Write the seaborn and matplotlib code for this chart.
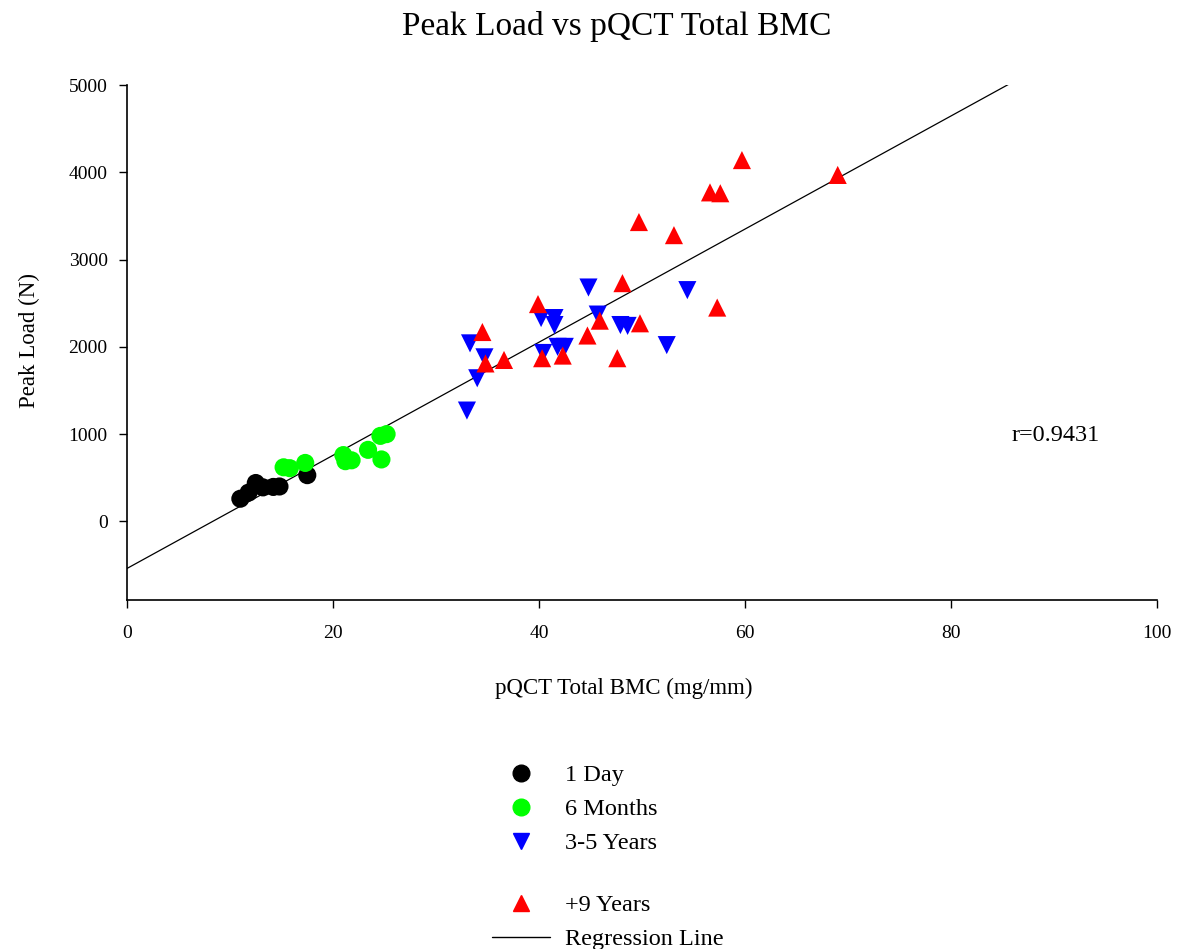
import pandas as pd
import matplotlib.pyplot as plt
from matplotlib.lines import Line2D
import seaborn as sns

# values
day1_bmc = [11.0, 11.8, 12.5, 13.2, 14.2, 14.8, 17.5]
day1_load = [260, 330, 440, 390, 395, 400, 530]

m6_bmc = [15.2, 15.8, 17.3, 21.0, 21.2, 21.8, 23.4, 24.7, 24.6, 25.2]
m6_load = [620, 610, 670, 760, 690, 700, 820, 710, 980, 1000]

y35_bmc = [33.0, 33.3, 34.0, 34.7, 40.2, 41.5, 41.5, 41.8, 42.5, 40.4,
           44.8, 45.7, 47.9, 48.6, 52.4, 54.4]
y35_load = [1270, 2040, 1640, 1880, 2330, 2330, 2250, 2000, 2000, 1930,
            2680, 2370, 2250, 2240, 2020, 2650]

y9_bmc = [34.5, 34.8, 36.6, 39.9, 40.3, 42.3, 44.7, 45.9, 47.6, 48.1,
          49.8, 57.3, 49.7, 53.1, 56.6, 57.6, 59.7, 69.0]
y9_load = [2170, 1810, 1850, 2490, 1870, 1900, 2130, 2300, 1870, 2730,
           2270, 2450, 3430, 3280, 3770, 3760, 4140, 3970]

groups = ['1 Day', '6 Months', '3-5 Years', '+9 Years']
r_text = 'r=0.9431'

df = pd.concat([
    pd.DataFrame({'bmc': day1_bmc, 'load': day1_load, 'group': groups[0]}),
    pd.DataFrame({'bmc': m6_bmc, 'load': m6_load, 'group': groups[1]}),
    pd.DataFrame({'bmc': y35_bmc, 'load': y35_load, 'group': groups[2]}),
    pd.DataFrame({'bmc': y9_bmc, 'load': y9_load, 'group': groups[3]}),
], ignore_index=True)

palette = {'1 Day': '#000000', '6 Months': '#00ff00',
           '3-5 Years': '#0000ff', '+9 Years': '#ff0000'}
markers = {'1 Day': 'o', '6 Months': 'o', '3-5 Years': 'v', '+9 Years': '^'}

sns.set_style('white')
plt.rcParams['font.family'] = ['Liberation Serif', 'DejaVu Serif']
plt.rcParams.update({'text.color': 'black', 'axes.labelcolor': 'black',
                     'xtick.color': 'black', 'ytick.color': 'black'})

fig = plt.figure(figsize=(11.84, 9.49), dpi=100)
ax = fig.add_axes([0.1073, 0.3678, 0.8699, 0.5426])
ax.set_xlim(0, 100)
ax.set_ylim(-900, 5000)

sns.scatterplot(data=df, x='bmc', y='load', hue='group', style='group',
                palette=palette, markers=markers, s=170, linewidth=0,
                legend=False, ax=ax, zorder=3)
# regression on all points, extended across the x range
sns.regplot(data=df, x='bmc', y='load', scatter=False, ci=None,
            truncate=False, color='black', line_kws={'lw': 0.9}, ax=ax)
ax.set_xlim(0, 100)
ax.set_ylim(-900, 5000)

ax.set_xticks(range(0, 101, 20))
ax.set_yticks(range(0, 5001, 1000))
sns.despine(ax=ax)
for s in ['left', 'bottom']:
    ax.spines[s].set_color('black')
    ax.spines[s].set_linewidth(1.2)
ax.tick_params(axis='both', which='major', direction='out', length=6,
               width=1, labelsize=14, bottom=True, left=True)
ax.tick_params(axis='x', pad=12)
ax.tick_params(axis='y', pad=8)

ax.set_xlabel('pQCT Total BMC (mg/mm)', fontsize=16.5)
ax.xaxis.set_label_coords((624 - 127) / 1030, -0.152)
ax.set_ylabel('Peak Load (N)', fontsize=16.5)
ax.yaxis.set_label_coords(-0.084, 0.503)
ax.set_title('Peak Load vs pQCT Total BMC', fontsize=24, pad=36,
             x=(617 - 127) / 1030)

ax.text(85.9, 986, r_text, fontsize=17.5, va='center', ha='left')

h_top = [Line2D([], [], marker=markers[g], color=palette[g], ls='none',
                markersize=12) for g in groups[:3]]
h_bot = [Line2D([], [], marker=markers[groups[3]], color=palette[groups[3]],
                ls='none', markersize=12),
         Line2D([], [], color='black', lw=1)]
kw = dict(frameon=False, fontsize=17.5, handlelength=2.4, handletextpad=0.6,
          labelspacing=0.5, borderpad=0, borderaxespad=0, loc='upper left')
fig.legend(h_top, groups[:3], bbox_to_anchor=(492 / 1184, 1 - 764 / 949), **kw)
fig.legend(h_bot, [groups[3], 'Regression Line'],
           bbox_to_anchor=(492 / 1184, 1 - 894 / 949), **kw)

fig.savefig('out.png', dpi=100)
